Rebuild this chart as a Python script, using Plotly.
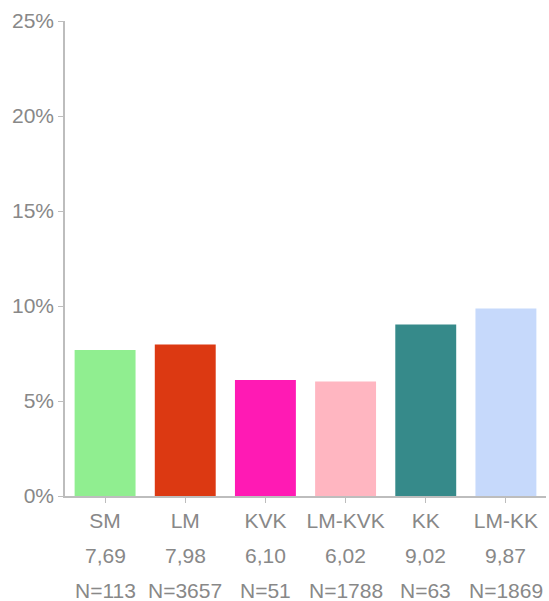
import plotly.graph_objs as go

categories = ["SM", "LM", "KVK", "LM-KVK", "KK", "LM-KK"]
values = [7.69, 7.98, 6.10, 6.02, 9.02, 9.87]
counts = [113, 3657, 51, 1788, 63, 1869]
colors = ["#90ee90", "#dc3912", "#ff1ab4", "#ffb6c1", "#368a8a", "#c6d9fb"]

font_family = "Liberation Sans, Arial, sans-serif"
text_color = "#888888"
axis_color = "#bdbdbd"
font_size = 21

fig = go.Figure(go.Bar(
    x=categories,
    y=values,
    marker=dict(color=colors, line=dict(width=0)),
    width=0.76,
    hoverinfo="skip",
))

# second and third label rows under each bar: value and count
annotations = []
for cat, v, n in zip(categories, values, counts):
    annotations.append(dict(
        x=cat, y=0, xref="x", yref="paper", yanchor="middle",
        yshift=-59, showarrow=False, borderpad=0,
        text=f"{v:.2f}".replace(".", ","),
        font=dict(family=font_family, size=font_size, color=text_color),
    ))
    annotations.append(dict(
        x=cat, y=0, xref="x", yref="paper", yanchor="middle",
        yshift=-94, showarrow=False, borderpad=0,
        text=f"N={n}",
        font=dict(family=font_family, size=font_size, color=text_color),
    ))

fig.update_layout(
    width=549,
    height=601,
    margin=dict(l=65, r=3, t=21, b=105),
    plot_bgcolor="white",
    paper_bgcolor="white",
    showlegend=False,
    bargap=0.24,
    annotations=annotations,
    xaxis=dict(
        showline=True,
        linecolor=axis_color,
        linewidth=1.5,
        ticks="outside",
        ticklen=5,
        tickcolor=axis_color,
        showgrid=False,
        tickfont=dict(family=font_family, size=font_size, color=text_color),
        fixedrange=True,
    ),
    yaxis=dict(
        range=[0, 25],
        tickvals=[0, 5, 10, 15, 20, 25],
        ticktext=["0%", "5%", "10%", "15%", "20%", "25%"],
        showline=True,
        linecolor=axis_color,
        linewidth=1.5,
        ticks="outside",
        ticklen=5,
        tickcolor=axis_color,
        showgrid=False,
        zeroline=False,
        tickfont=dict(family=font_family, size=font_size, color=text_color),
        fixedrange=True,
    ),
)

fig.write_html("out.html", config={"displayModeBar": False})

# drop the default page margin so the chart sits at the window's corner
with open("out.html", encoding="utf-8") as f:
    html = f.read()
html = html.replace("<head>", "<head><style>body{margin:0;overflow:hidden}</style>", 1)
with open("out.html", "w", encoding="utf-8") as f:
    f.write(html)
